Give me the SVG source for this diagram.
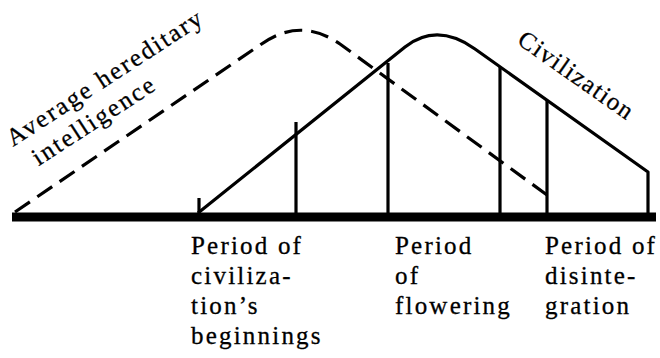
<svg xmlns="http://www.w3.org/2000/svg" width="660" height="358" viewBox="0 0 660 358">
<style>
.ln{fill:none;stroke:#000;stroke-width:3.2;stroke-linejoin:round}
.ds{fill:none;stroke:#000;stroke-width:3.2;stroke-dasharray:18 9}
.t{font-family:"Liberation Serif","Times New Roman",serif;font-size:25px;letter-spacing:2.2px;fill:#000;stroke:#000;stroke-width:0.3}
</style>
<rect width="660" height="358" fill="#fff"/>
<g id="connectors">
<line x1="12" y1="217" x2="656" y2="217" stroke="#000" stroke-width="9"/>
<path class="ds" d="M15,212 L260,45 Q300,16 340,44 L547,195"/>
<path class="ln" d="M198,213 L405,47 Q437,22 475,49 L648,172 L648,213"/>
<line class="ln" x1="199" y1="198" x2="199" y2="213"/>
<line class="ln" x1="296" y1="122" x2="296" y2="213"/>
<line class="ln" x1="388" y1="63" x2="388" y2="213"/>
<line class="ln" x1="500" y1="67" x2="500" y2="213"/>
<line class="ln" x1="547" y1="100" x2="547" y2="213"/>
</g>
<g id="label-intelligence">
<text class="t" transform="translate(13,147) rotate(-33)"><tspan x="0" y="0">Average hereditary</tspan><tspan x="11" y="30">intelligence</tspan></text>
</g>
<g id="label-civilization">
<text class="t" style="letter-spacing:1.5px" transform="translate(516,43) rotate(35)">Civilization</text>
</g>
<g id="label-beginnings">
<text class="t"><tspan x="191" y="254">Period of</tspan><tspan x="191" y="284">civiliza-</tspan><tspan x="191" y="314">tion’s</tspan><tspan x="191" y="344">beginnings</tspan></text>
</g>
<g id="label-flowering">
<text class="t"><tspan x="395" y="254">Period</tspan><tspan x="395" y="284">of</tspan><tspan x="395" y="314">flowering</tspan></text>
</g>
<g id="label-disintegration">
<text class="t"><tspan x="545" y="254">Period of</tspan><tspan x="545" y="284">disinte-</tspan><tspan x="545" y="314">gration</tspan></text>
</g>
</svg>
